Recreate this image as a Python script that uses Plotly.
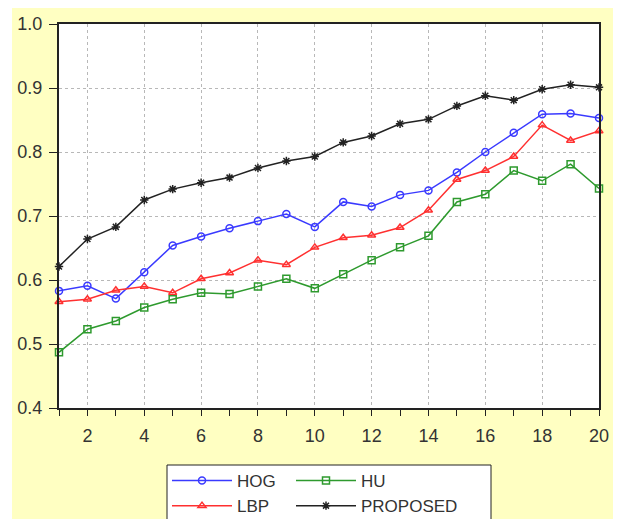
import plotly.graph_objects as go

x_vals = list(range(1, 21))
hog = [0.583, 0.591, 0.571, 0.612, 0.654, 0.668, 0.681, 0.692, 0.703, 0.683,
       0.722, 0.715, 0.733, 0.740, 0.768, 0.800, 0.830, 0.859, 0.860, 0.853]
lbp = [0.566, 0.570, 0.584, 0.590, 0.580, 0.602, 0.611, 0.631, 0.624, 0.651,
       0.666, 0.670, 0.682, 0.709, 0.757, 0.771, 0.793, 0.842, 0.818, 0.833]
hu = [0.487, 0.523, 0.536, 0.557, 0.570, 0.580, 0.578, 0.590, 0.602, 0.587,
      0.609, 0.631, 0.651, 0.669, 0.722, 0.734, 0.771, 0.755, 0.781, 0.743]
proposed = [0.621, 0.664, 0.683, 0.725, 0.742, 0.752, 0.760, 0.775, 0.786, 0.793,
            0.815, 0.825, 0.844, 0.851, 0.872, 0.888, 0.881, 0.898, 0.905, 0.901]

series = [
    ("HOG", hog, "#3A3AFF", "circle-open", "legend"),
    ("LBP", lbp, "#FF3030", "triangle-up-open", "legend"),
    ("HU", hu, "#2E9A2E", "square-open", "legend2"),
    ("PROPOSED", proposed, "#222222", "asterisk-open", "legend2"),
]

fig = go.Figure()
for name, vals, color, sym, lg in series:
    fig.add_trace(go.Scatter(
        x=x_vals, y=vals, name=name, mode="lines+markers",
        line=dict(color=color, width=1.5),
        marker=dict(symbol=sym, size=7, color=color, line=dict(color=color, width=1.5)),
        cliponaxis=False, legend=lg,
    ))

# page body has an 8px margin; figure sized to fill the rest of the window
OFF = 8
W, H = 621 - OFF, 519 - OFF
L, R, T, B = 51, 22, 16, 111
pw, ph = W - L - R, H - T - B

def fx(px):  # screen px -> paper x
    return (px - OFF - L) / pw

def fy(py):  # screen px -> paper y
    return (H - B - (py - OFF)) / ph

# white strips outside the yellow panel
fig.add_shape(type="rect", xref="paper", yref="paper",
              x0=fx(OFF - 2), x1=fx(12), y0=fy(530), y1=fy(0),
              fillcolor="white", line=dict(width=0), layer="below")
fig.add_shape(type="rect", xref="paper", yref="paper",
              x0=fx(614), x1=fx(625), y0=fy(530), y1=fy(0),
              fillcolor="white", line=dict(width=0), layer="below")

# legend box
fig.add_shape(type="rect", xref="paper", yref="paper",
              x0=fx(167), x1=fx(491), y0=fy(530), y1=fy(465),
              fillcolor="white", line=dict(color="#222222", width=1), layer="above")

font_family = "Liberation Sans, Arial, sans-serif"
leg_common = dict(
    orientation="v", xanchor="left", yanchor="top",
    bgcolor="rgba(0,0,0,0)", borderwidth=0,
    font=dict(size=17, color="#333333", family=font_family),
    itemwidth=60, traceorder="normal",
)

fig.update_layout(
    width=W, height=H,
    margin=dict(l=L, r=R, t=T, b=B, pad=0, autoexpand=False),
    paper_bgcolor="#FFFFC2",
    plot_bgcolor="white",
    font=dict(family=font_family, size=18, color="#333333"),
    showlegend=True,
    legend=dict(x=fx(167), y=fy(463), **leg_common),
    legend2=dict(x=fx(291), y=fy(463), **leg_common),
    xaxis=dict(
        range=[1, 20], tick0=2, dtick=2, ticks="outside", ticklen=6, tickwidth=1,
        tickcolor="#222222", showline=True, linecolor="#222222", linewidth=2,
        mirror=True, showgrid=True, gridcolor="#B8B8B8", griddash="dot", gridwidth=1,
        zeroline=False, ticklabelstandoff=4,
        minor=dict(dtick=1, tick0=1, ticks="outside", ticklen=6, tickcolor="#222222", showgrid=False),
    ),
    yaxis=dict(
        range=[0.4, 1.0], dtick=0.1, tick0=0.4, tickformat=".1f", ticks="outside",
        ticklen=8, tickwidth=1, tickcolor="#222222", showline=True, linecolor="#222222",
        linewidth=2, mirror=True, showgrid=True, gridcolor="#B8B8B8", griddash="dot",
        gridwidth=1, zeroline=False, ticklabelstandoff=3,
    ),
)

fig.write_html("out.html")
